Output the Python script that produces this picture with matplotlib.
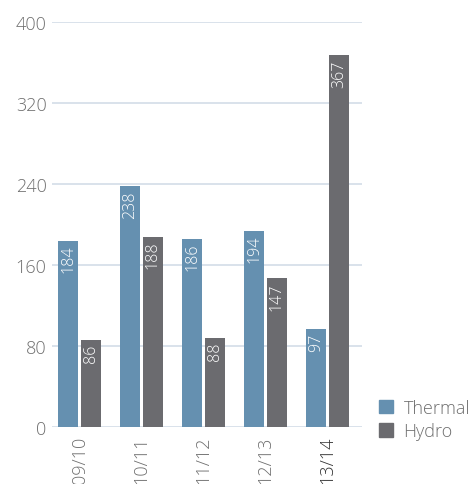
import numpy as np
import matplotlib
matplotlib.use('Agg')
import matplotlib.pyplot as plt
from matplotlib.patches import Patch

# ── Data ──────────────────────────────────────────────
categories = ['09/10', '10/11', '11/12', '12/13', '13/14']
thermal = [184, 238, 186, 194, 97]
hydro = [86, 188, 88, 147, 367]
yticks = [0, 80, 160, 240, 320, 400]

C_THERMAL = '#6590B0'
C_HYDRO = '#6B6B6F'
C_GRID = '#D3DDE8'
C_TEXT = '#6F6F6F'

plt.rcParams['font.family'] = ['Open Sans', 'DejaVu Sans']
plt.rcParams['font.weight'] = 'light'

fig = plt.figure(figsize=(4.74, 4.85), dpi=100)
ax = fig.add_axes([0.1097, 0.1175, 0.654, 0.835])

x = np.arange(len(categories))
w = 0.323
off = 0.185

b1 = ax.bar(x - off, thermal, w, color=C_THERMAL, zorder=3)
b2 = ax.bar(x + off, hydro, w, color=C_HYDRO, zorder=3)

# value labels inside the top of each bar
for bars, vals in [(b1, thermal), (b2, hydro)]:
    for rect, v in zip(bars, vals):
        ax.text(rect.get_x() + rect.get_width() / 2, v - 4, str(v),
                rotation=90, ha='center', va='top', color='white',
                fontsize=11.5, fontweight='light', zorder=4)

ax.set_xlim(-0.444, 4.556)
ax.set_ylim(0, 400)
ax.set_yticks(yticks)
ax.set_yticklabels([str(t) for t in yticks])
ax.yaxis.grid(True, color=C_GRID, lw=1.2, zorder=0)
ax.set_axisbelow(True)
for s in ax.spines.values():
    s.set_visible(False)
ax.tick_params(axis='y', length=0, pad=4, labelsize=13, labelcolor=C_TEXT)

ax.set_xticks(x)
ax.set_xticklabels(categories, rotation=90)
ax.tick_params(axis='x', length=0, pad=6, labelsize=13, labelcolor=C_TEXT)
ax.get_xticklabels()[-1].set_color('#333333')

handles = [Patch(color=C_THERMAL, label='Thermal'),
           Patch(color=C_HYDRO, label='Hydro')]
fig.legend(handles=handles, loc='lower left', bbox_to_anchor=(0.8, 0.09),
           frameon=False, fontsize=13, labelcolor=C_TEXT,
           prop={'weight': 'light', 'size': 13},
           handlelength=0.75, handleheight=0.75, handletextpad=0.6,
           labelspacing=0.3, borderaxespad=0, borderpad=0)

fig.savefig('out.png', dpi=100)
